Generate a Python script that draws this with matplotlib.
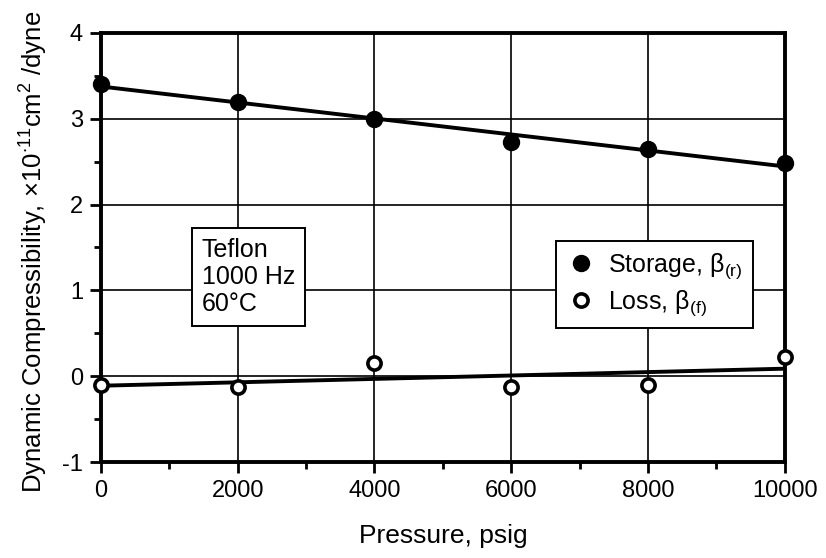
"""Dynamic compressibility of Teflon vs. pressure (1000 Hz, 60 C)."""

import matplotlib

matplotlib.use("Agg")
import matplotlib.pyplot as plt  # noqa: E402
import numpy as np  # noqa: E402
from matplotlib.ticker import MultipleLocator  # noqa: E402

PRESSURE = [0, 2000, 4000, 6000, 8000, 10000]
STORAGE = [3.40, 3.20, 3.00, 2.73, 2.65, 2.48]
LOSS = [-0.10, -0.12, 0.15, -0.12, -0.10, 0.22]
X_TICKS = [0, 2000, 4000, 6000, 8000, 10000]
Y_TICKS = [-1, 0, 1, 2, 3, 4]

plt.rcParams["font.family"] = ["Liberation Sans", "DejaVu Sans"]
plt.rcParams["mathtext.fontset"] = "custom"
plt.rcParams["mathtext.rm"] = "Liberation Sans"
plt.rcParams["mathtext.it"] = "Liberation Sans"
plt.rcParams["mathtext.default"] = "regular"
plt.rcParams["axes.unicode_minus"] = False

fig = plt.figure(figsize=(8.26, 5.58), dpi=100)
ax = fig.add_axes([0.1223, 0.172, 0.8277, 0.769])

x = np.array(PRESSURE, dtype=float)
xfit = np.array([0.0, 10000.0])
for vals in (STORAGE, LOSS):
    k, b = np.polyfit(x, vals, 1)
    ax.plot(xfit, k * xfit + b, color="black", linewidth=2.8, zorder=3)

ax.plot(PRESSURE, STORAGE, "o", color="black", markersize=11.5, zorder=4,
        label=r"Storage, β$_{(r)}$", clip_on=False)
ax.plot(PRESSURE, LOSS, "o", markerfacecolor="white", markeredgecolor="black",
        markeredgewidth=2.6, markersize=9.5, zorder=4,
        label=r"Loss, β$_{(f)}$", clip_on=False)

ax.set_xlim(0, 10000)
ax.set_ylim(-1, 4)
ax.set_xticks(X_TICKS)
ax.set_yticks(Y_TICKS)
ax.xaxis.set_minor_locator(MultipleLocator(1000))
ax.yaxis.set_minor_locator(MultipleLocator(0.5))
ax.tick_params(which="major", direction="out", length=8, width=2, labelsize=17,
               color="black", pad=5)
ax.tick_params(which="minor", direction="out", length=5, width=2)
ax.grid(True, which="major", color="black", linewidth=1.2, zorder=0)
ax.set_axisbelow(True)
for sp in ax.spines.values():
    sp.set_linewidth(2.8)

ax.set_xlabel("Pressure, psig", fontsize=19, labelpad=16)
ax.set_ylabel(r"Dynamic Compressibility, ×10$^{\cdot 11}$cm$^{2}$ /dyne",
              fontsize=18.5)
ax.yaxis.set_label_coords(-0.075, 0.49)

ax.text(1470, 1.16, "Teflon\n1000 Hz\n60°C", fontsize=18, linespacing=1.15,
        ha="left", va="center", zorder=5,
        bbox=dict(boxstyle="square,pad=0.4", facecolor="white",
                  edgecolor="black", linewidth=1.4))

leg = ax.legend(loc="center left", bbox_to_anchor=(0.665, 0.414), fontsize=18,
                frameon=True, fancybox=False, framealpha=1, edgecolor="black",
                handletextpad=0.5, handlelength=1.2, borderpad=0.4,
                labelspacing=0.3, borderaxespad=0)
leg.get_frame().set_linewidth(1.4)
leg.set_zorder(6)

fig.savefig("out.png", dpi=100)
